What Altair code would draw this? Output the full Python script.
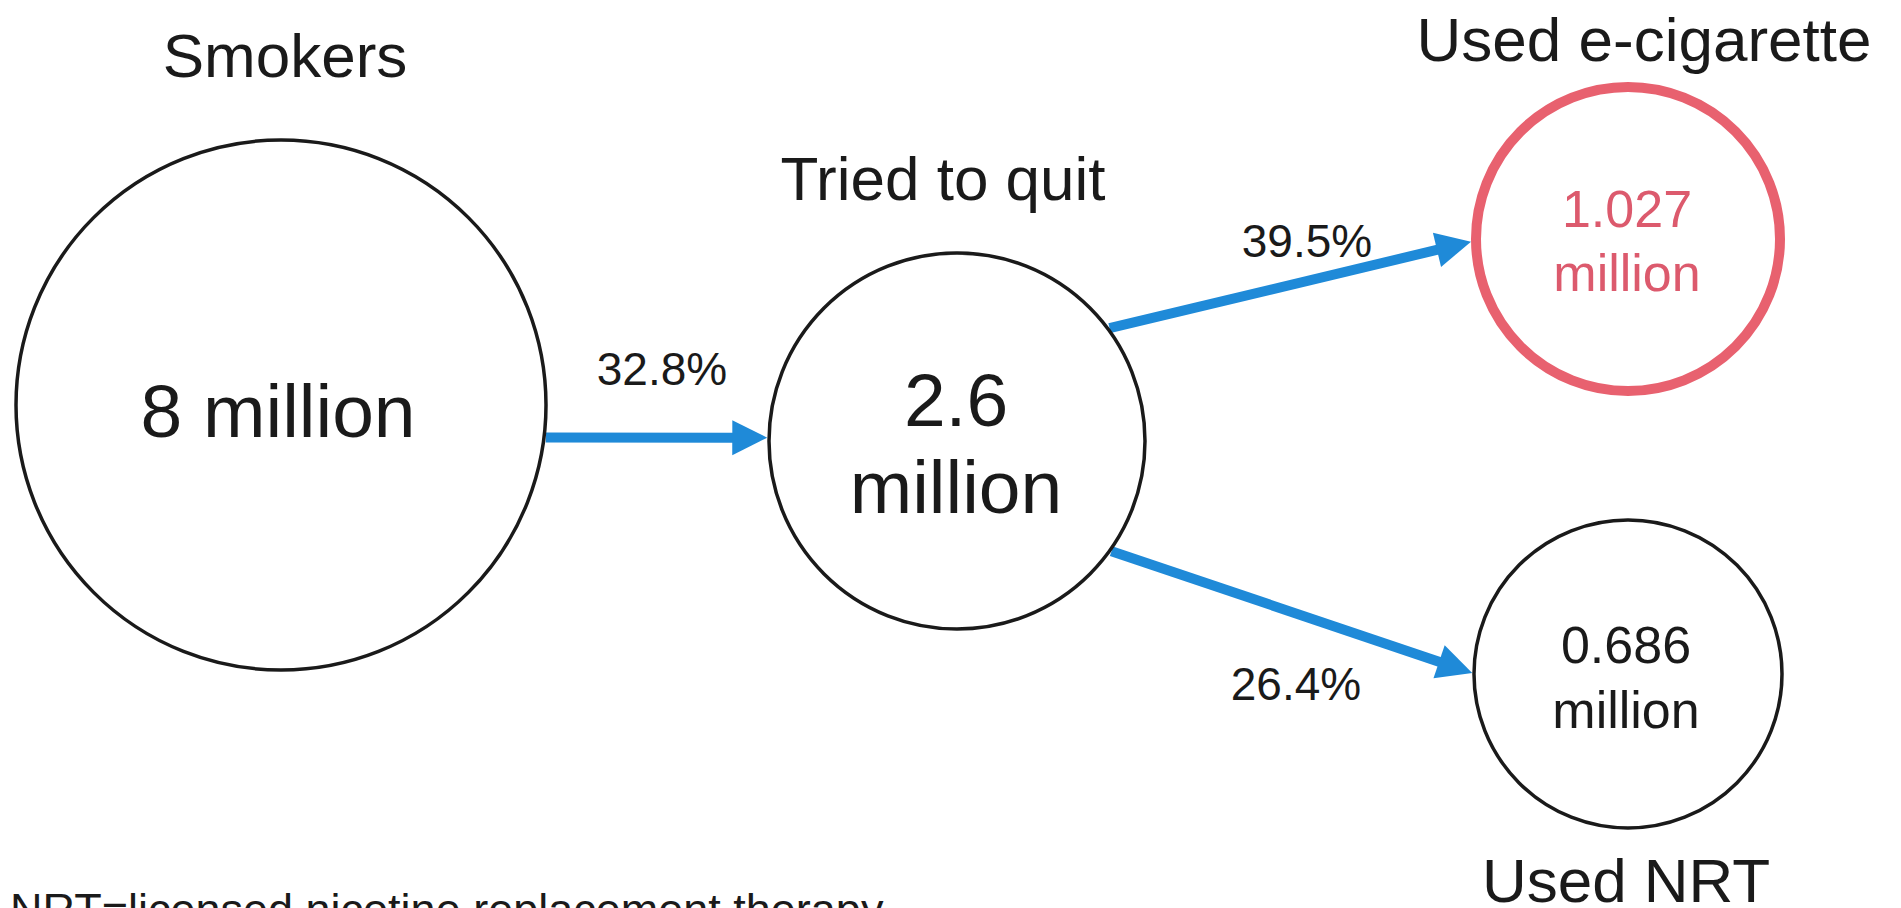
import math
import altair as alt
import pandas as pd

# ---------------- data ----------------
stage_labels = ["Smokers", "Tried to quit", "Used e-cigarette", "Used NRT"]
stage_values = ["8", "2.6", "1.027", "0.686"]
stage_unit = "million"
flow_from = [0, 1, 1]
flow_to = [1, 2, 3]
flow_pct = ["32.8%", "39.5%", "26.4%"]
footnote = "NRT=licensed nicotine replacement therapy"

# ---------------- layout (page pixels) ----------------
W, H = 1878, 900
X0, Y0 = 8, 8
FONT = "Liberation Sans"
INK = "#1a1a1a"
BLUE = "#1f8ad8"
RED = "#e8616f"
RED_TEXT = "#dc5a6d"

node_cx = [281, 957, 1628, 1628]
node_cy = [405, 441, 239, 674]
node_r = [265, 188, 152, 154]
node_stroke = [INK, INK, RED, INK]
node_sw = [3.5, 3.5, 10, 3.5]
value_color = [INK, INK, RED_TEXT, INK]
value_fs = [75, 75, 52, 52]
value_x = [278, 956, 1627, 1626]
value_single_line = [True, False, False, False]
value_base = [[437], [426, 513], [227, 291], [663, 728]]
label_x = [285, 943, 1644, 1626]
label_base = [77, 200, 61, 902]
label_fs = 62
flow_a_start = [7.0, -36.5, 35.5]
flow_a_end = [181.0, 179.0, 180.4]
pct_x = [662, 1307, 1296]
pct_base = [385, 257, 700]
pct_fs = 46
HEAD = 35
SHAFT = 10
ARROW_PATH = "M 1 0 L -1 -1 L -1 1 Z"

# ---------------- tables ----------------
nodes = pd.DataFrame({
    "cx": node_cx, "cy": node_cy,
    "sz": [(2 * r) ** 2 for r in node_r],
    "stroke": node_stroke, "sw": node_sw,
})

rows = []
for i in range(len(flow_from)):
    s, t = flow_from[i], flow_to[i]
    a1 = math.radians(flow_a_start[i])
    a2 = math.radians(flow_a_end[i])
    rs = node_r[s] + node_sw[s] / 2
    rt = node_r[t] + node_sw[t] / 2
    x1 = node_cx[s] + rs * math.cos(a1)
    y1 = node_cy[s] + rs * math.sin(a1)
    x2 = node_cx[t] + rt * math.cos(a2)
    y2 = node_cy[t] + rt * math.sin(a2)
    L = math.hypot(x2 - x1, y2 - y1)
    ux, uy = (x2 - x1) / L, (y2 - y1) / L
    ang = math.degrees(math.atan2(uy, ux)) % 360
    rows.append({
        "x1": x1, "y1": y1,
        "x2": x2 - ux * (HEAD - 3), "y2": y2 - uy * (HEAD - 3),
        "hx": x2 - ux * HEAD / 2, "hy": y2 - uy * HEAD / 2,
        "ang": ang,
    })
arrows = pd.DataFrame(rows)

texts = []
for i, lab in enumerate(stage_labels):
    texts.append({"x": label_x[i], "y": label_base[i], "text": lab,
                  "fs": label_fs, "col": INK, "al": "center"})
    if value_single_line[i]:
        lines = [f"{stage_values[i]} {stage_unit}"]
    else:
        lines = [stage_values[i], stage_unit]
    for ln, yb in zip(lines, value_base[i]):
        texts.append({"x": value_x[i], "y": yb, "text": ln,
                      "fs": value_fs[i], "col": value_color[i], "al": "center"})
for i, p in enumerate(flow_pct):
    texts.append({"x": pct_x[i], "y": pct_base[i], "text": p,
                  "fs": pct_fs, "col": INK, "al": "center"})
texts_df = pd.DataFrame(texts)
foot_df = pd.DataFrame({"x": [10], "y": [925], "text": [footnote]})

# ---------------- chart ----------------
xs = alt.Scale(domain=[X0, X0 + W])
ys = alt.Scale(domain=[Y0, Y0 + H], reverse=True)

def X(f):
    return alt.X(f, type="quantitative", scale=xs, axis=None)

def Y(f):
    return alt.Y(f, type="quantitative", scale=ys, axis=None)

shafts = alt.Chart(arrows).mark_rule(color=BLUE, strokeWidth=SHAFT, strokeCap="butt").encode(
    x=X("x1"), y=Y("y1"), x2="x2", y2="y2")

heads = alt.Chart(arrows).mark_point(shape=ARROW_PATH, filled=True, color=BLUE,
                                     opacity=1, size=HEAD * HEAD, strokeWidth=0).encode(
    x=X("hx"), y=Y("hy"), angle=alt.Angle("ang:Q", scale=None))

circles = alt.Chart(nodes).mark_point(shape="circle", filled=False, opacity=1).encode(
    x=X("cx"), y=Y("cy"),
    size=alt.Size("sz:Q", scale=None),
    stroke=alt.Stroke("stroke:N", scale=None),
    strokeWidth=alt.StrokeWidth("sw:Q", scale=None))

labels = alt.Chart(texts_df).mark_text(font=FONT, align="center", baseline="alphabetic").encode(
    x=X("x"), y=Y("y"), text="text:N",
    size=alt.Size("fs:Q", scale=None),
    color=alt.Color("col:N", scale=None))

foot = alt.Chart(foot_df).mark_text(font=FONT, align="left", baseline="alphabetic",
                                    fontSize=45, color=INK).encode(
    x=X("x"), y=Y("y"), text="text:N")

chart = alt.layer(shafts, heads, circles, labels, foot).properties(
    width=W, height=H, padding=0, autosize=alt.AutoSizeParams(type="none"),
    background="white",
).configure_view(stroke=None)

chart.save("out.html", embed_options={"renderer": "svg", "actions": False})
